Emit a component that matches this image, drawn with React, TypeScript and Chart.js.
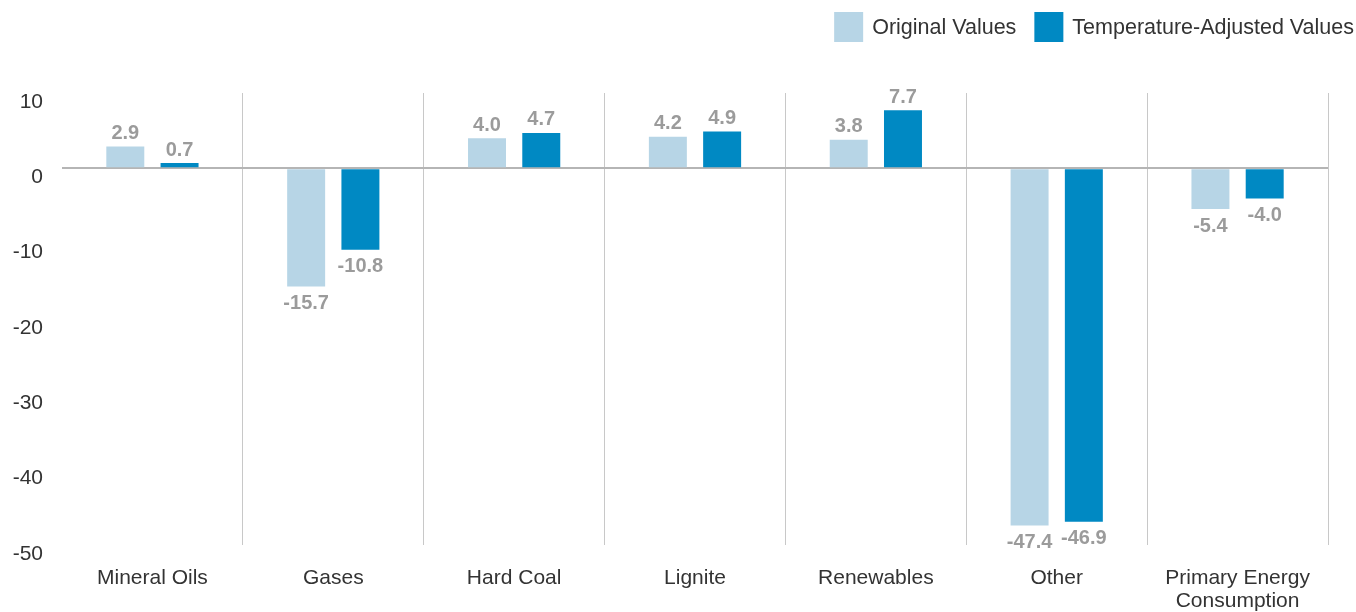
import React, { useEffect, useRef } from "react";
import { Chart, registerables } from "chart.js";

Chart.register(...registerables);

// Change in consumption by energy source, in percent
const categories: (string | string[])[] = [
  "Mineral Oils",
  "Gases",
  "Hard Coal",
  "Lignite",
  "Renewables",
  "Other",
  ["Primary Energy", "Consumption"],
];
const originalValues = [2.9, -15.7, 4.0, 4.2, 3.8, -47.4, -5.4];
const adjustedValues = [0.7, -10.8, 4.7, 4.9, 7.7, -46.9, -4.0];
const seriesNames = ["Original Values", "Temperature-Adjusted Values"];
const yTickValues = [10, 0, -10, -20, -30, -40, -50];

const FONT = "'Liberation Sans', Arial, Helvetica, sans-serif";
const LIGHT = "#b7d5e6";
const DARK = "#0089c3";
const TEXT = "#333333";
const VALUE_GRAY = "#9b9b9b";

// Bold value labels above positive bars and below negative bars
const valueLabels = {
  id: "valueLabels",
  afterDatasetsDraw(chart: Chart) {
    const { ctx } = chart;
    ctx.save();
    ctx.font = `bold 20px ${FONT}`;
    ctx.fillStyle = VALUE_GRAY;
    ctx.textAlign = "center";
    ctx.textBaseline = "middle";
    chart.data.datasets.forEach((ds, di) => {
      const meta = chart.getDatasetMeta(di);
      meta.data.forEach((bar: any, i) => {
        const v = ds.data[i] as number;
        const y = v >= 0 ? bar.y - 13 : bar.y + 17;
        ctx.fillText(v.toFixed(1), bar.x, y);
      });
    });
    ctx.restore();
  },
};

// Legend with square swatches, right-aligned at the top
const topLegend = {
  id: "topLegend",
  afterDraw(chart: Chart) {
    const { ctx } = chart;
    ctx.save();
    ctx.font = `21.5px ${FONT}`;
    ctx.textBaseline = "middle";
    ctx.textAlign = "left";
    const box = 29;
    const boxH = 30;
    const gapText = 9;
    const gapItem = 18;
    const top = 12;
    let right = 1354;
    const items = chart.data.datasets.map((d) => ({
      label: d.label as string,
      color: d.backgroundColor as string,
    }));
    for (let i = items.length - 1; i >= 0; i--) {
      const it = items[i];
      const w = ctx.measureText(it.label).width;
      const textX = right - w;
      const boxX = textX - gapText - box;
      ctx.fillStyle = it.color;
      ctx.fillRect(boxX, top, box, boxH);
      ctx.fillStyle = TEXT;
      ctx.fillText(it.label, textX, top + boxH / 2 + 1);
      right = boxX - gapItem;
    }
    ctx.restore();
  },
};

export default function App() {
  const canvasRef = useRef<HTMLCanvasElement | null>(null);

  useEffect(() => {
    if (!canvasRef.current) return;
    const chart = new Chart(canvasRef.current, {
      type: "bar",
      data: {
        labels: categories as any,
        datasets: [
          {
            label: seriesNames[0],
            data: originalValues,
            backgroundColor: LIGHT,
            categoryPercentage: 0.6,
            barPercentage: 0.7,
          },
          {
            label: seriesNames[1],
            data: adjustedValues,
            backgroundColor: DARK,
            categoryPercentage: 0.6,
            barPercentage: 0.7,
          },
        ],
      },
      options: {
        animation: false,
        responsive: true,
        maintainAspectRatio: false,
        layout: { padding: { top: 93, right: 28, bottom: 0, left: 0 } },
        plugins: {
          legend: { display: false },
          tooltip: { enabled: false },
          title: { display: false },
        },
        scales: {
          x: {
            grid: {
              offset: true,
              drawTicks: false,
              color: (c: any) => (c.index === 0 ? "rgba(0,0,0,0)" : "#c8c8c8"),
              lineWidth: 1,
            },
            border: { display: false },
            ticks: {
              color: TEXT,
              font: { family: FONT, size: 21, lineHeight: 1.1 },
              padding: 22,
              maxRotation: 0,
              autoSkip: false,
            },
            afterFit: (s: any) => {
              s.height = 67;
            },
          },
          y: {
            min: -50,
            max: 10,
            grid: {
              drawTicks: false,
              color: (c: any) =>
                c.tick && c.tick.value === 0 ? "#b5b5b5" : "rgba(0,0,0,0)",
              lineWidth: 2,
            },
            border: { display: false },
            afterBuildTicks: (s: any) => {
              s.ticks = yTickValues.map((v) => ({ value: v }));
            },
            ticks: {
              color: TEXT,
              font: { family: FONT, size: 21 },
              padding: 19,
              labelOffset: 9,
              callback: (v: any) => String(v),
            },
            afterFit: (s: any) => {
              s.width = 62;
            },
          },
        },
      },
      plugins: [valueLabels, topLegend],
    });
    return () => chart.destroy();
  }, []);

  return (
    <div
      style={{
        position: "fixed",
        left: 0,
        top: 0,
        width: 1356,
        height: 612,
        background: "#ffffff",
      }}
    >
      <canvas ref={canvasRef} />
    </div>
  );
}
